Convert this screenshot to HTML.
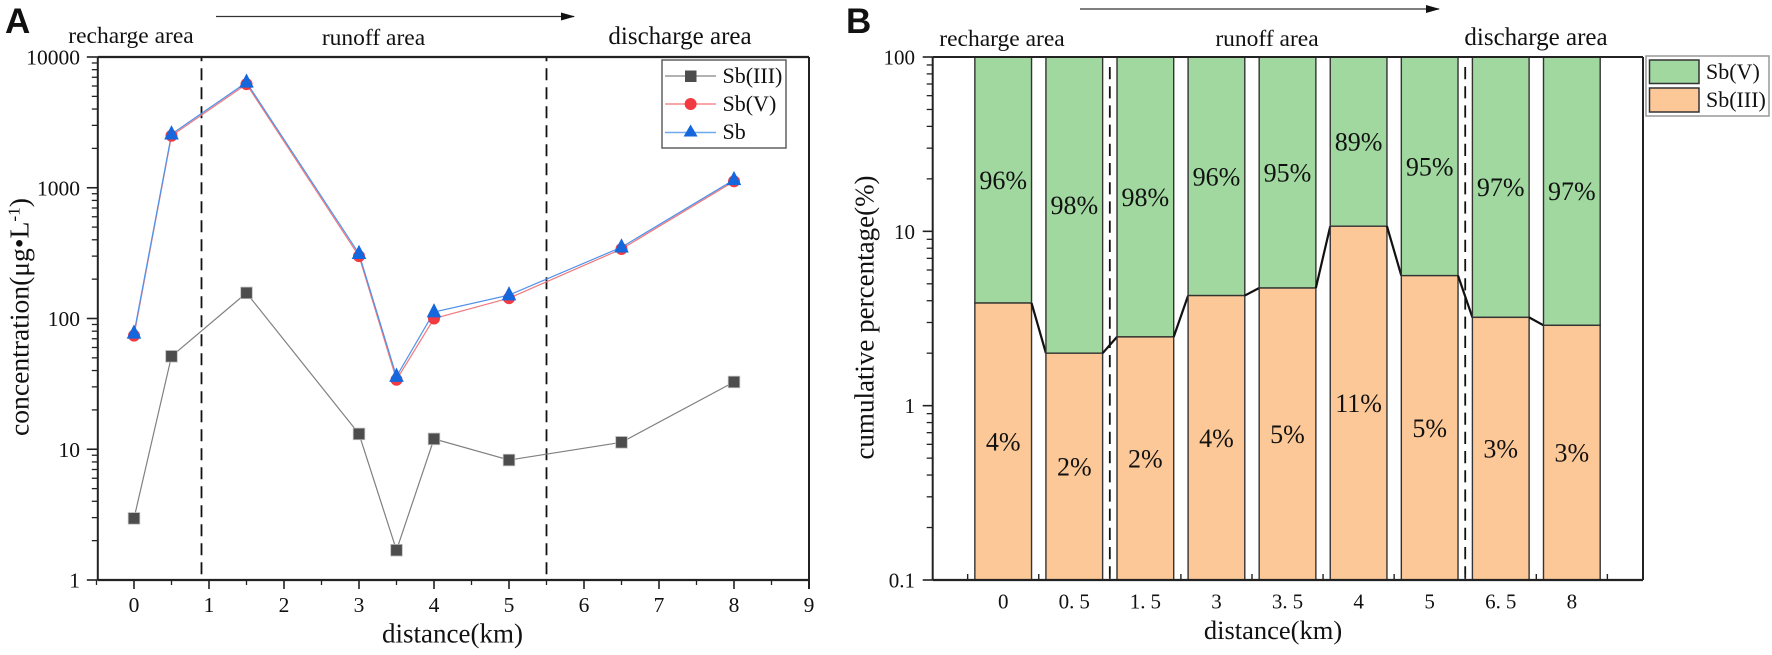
<!DOCTYPE html>
<html lang="en">
<head>
<meta charset="utf-8">
<title>Antimony speciation along distance</title>
<style>
html,body{margin:0;padding:0;background:#fff;}
svg{display:block;font-family:"Liberation Serif",serif;fill:#111;}
text{fill:#111;}
</style>
</head>
<body>
<svg id="figure" xmlns="http://www.w3.org/2000/svg" width="1772" height="655" viewBox="0 0 1772 655">
  <defs>
    <marker id="arrowhead" markerWidth="14" markerHeight="8" refX="13" refY="4" orient="auto" markerUnits="userSpaceOnUse"><path d="M0,0 L14,4 L0,8 Z" fill="#111"/></marker>
  </defs>
  <rect x="0" y="0" width="1772" height="655" fill="#fff"/>

  <g id="panelA"></g>
  <text x="5" y="33" font-family="Liberation Sans, sans-serif" font-weight="700" font-size="35">A</text>
  <line x1="216" y1="16.5" x2="574" y2="16.5" stroke="#333" stroke-width="1.3" marker-end="url(#arrowhead)"/>
  <text x="131" y="43" font-size="23.5" text-anchor="middle">recharge area</text>
  <text x="373.5" y="45" font-size="23.5" text-anchor="middle">runoff area</text>
  <text x="680" y="44" font-size="25" text-anchor="middle">discharge area</text>
  <text transform="translate(28.3,317) rotate(-90)" font-size="27" text-anchor="middle" textLength="238" lengthAdjust="spacingAndGlyphs">concentration(μg•L<tspan dy="-9" font-size="17">-1</tspan><tspan dy="9">)</tspan></text>
  <text x="452.5" y="642.5" font-size="27" text-anchor="middle">distance(km)</text>

  <g>
    <rect x="662" y="60" width="124" height="88" fill="#fff" stroke="#555" stroke-width="1.4"/>
    <line x1="665" y1="76" x2="716" y2="76" stroke="#999" stroke-width="1.5"/>
    <rect x="685" y="70.5" width="11.5" height="11.5" fill="#4d4d4d"/>
    <text x="722.5" y="83" font-size="22">Sb(III)</text>
    <line x1="665" y1="104" x2="716" y2="104" stroke="#f58a8f" stroke-width="1.5"/>
    <circle cx="690.6" cy="104" r="6" fill="#f23b40"/>
    <text x="722.5" y="111" font-size="22">Sb(V)</text>
    <line x1="665" y1="132.5" x2="716" y2="132.5" stroke="#6ea8ef" stroke-width="1.5"/>
    <path d="M690.6,124.5 L697.6,136.5 L683.6,136.5 Z" fill="#1567de"/>
    <text x="722.5" y="139" font-size="22">Sb</text>
  </g>

  <g id="panelB"></g>
  <text x="846" y="33" font-family="Liberation Sans, sans-serif" font-weight="700" font-size="35">B</text>
  <line x1="1080" y1="9" x2="1439" y2="9" stroke="#333" stroke-width="1.3" marker-end="url(#arrowhead)"/>
  <text x="1002" y="46" font-size="23.5" text-anchor="middle">recharge area</text>
  <text x="1267" y="46" font-size="23.5" text-anchor="middle">runoff area</text>
  <text x="1536" y="45" font-size="25" text-anchor="middle">discharge area</text>
  <text transform="translate(873.3,317.5) rotate(-90)" font-size="27" text-anchor="middle">cumulative percentage(%)</text>
  <text x="1273" y="639" font-size="26.5" text-anchor="middle">distance(km)</text>

  <g>
    <rect x="1646" y="56" width="123" height="60" fill="#fff" stroke="#999" stroke-width="1.5"/>
    <rect x="1649.5" y="60" width="49.5" height="23.5" fill="#a0d8a0" stroke="#333" stroke-width="1.5"/>
    <text x="1706" y="79" font-size="22">Sb(V)</text>
    <rect x="1649.5" y="88" width="49.5" height="24" fill="#fdc897" stroke="#333" stroke-width="1.5"/>
    <text x="1706" y="107" font-size="22">Sb(III)</text>
  </g>
</svg>

<script>
// Panel A data
const distances = [0, 0.5, 1.5, 3, 3.5, 4, 5, 6.5, 8];
const sb3Values = [2.96, 51.4, 157, 13.1, 1.69, 12, 8.27, 11.3, 32.7];
const sb5Values = [74, 2500, 6200, 300, 34, 100, 143, 340, 1120];
const sbValues = [77, 2570, 6400, 313, 36, 112, 151, 351, 1150];
const xTickLabelsA = ['0', '1', '2', '3', '4', '5', '6', '7', '8', '9'];
const yTickLabelsA = ['1', '10', '100', '1000', '10000'];
const zoneBoundariesA = [0.9, 5.5];

// Panel B data
const categoriesB = ['0', '0.5', '1.5', '3', '3.5', '4', '5', '6.5', '8'];
const sb3Percent = [3.88, 2.0, 2.48, 4.28, 4.73, 10.7, 5.57, 3.21, 2.89];
const sb5Percent = [96.12, 98.0, 97.52, 95.72, 95.27, 89.3, 94.43, 96.79, 97.11];
const sb3PercentLabels = ['4%', '2%', '2%', '4%', '5%', '11%', '5%', '3%', '3%'];
const sb5PercentLabels = ['96%', '98%', '98%', '96%', '95%', '89%', '95%', '97%', '97%'];
const yTickLabelsB = ['0.1', '1', '10', '100'];
const zoneBoundariesB = [1.5, 6.5];

const NS = 'http://www.w3.org/2000/svg';
function make(parent, tag, attrs, txt) {
  const el = document.createElementNS(NS, tag);
  for (const k in attrs) el.setAttribute(k, attrs[k]);
  if (txt !== undefined) el.textContent = txt;
  parent.appendChild(el);
  return el;
}

// ---------- Panel A ----------
const gA = document.getElementById('panelA');
const A = { left: 97.8, right: 809, top: 57, bottom: 580 };
const xA = v => 134 + 75 * v;
const yA = v => A.bottom - (A.bottom - A.top) * Math.log10(v) / 4;

zoneBoundariesA.forEach(b => {
  const el = make(gA, 'line', { x1: xA(b), x2: xA(b), y1: A.top, y2: A.bottom, stroke: '#111', 'stroke-width': 1.8, 'stroke-dasharray': '12 7', 'stroke-dashoffset': 7.7 });
  
  
});

function lineSeries(values, color, name) {
  const pts = values.map((v, i) => xA(distances[i]) + ',' + yA(v)).join(' ');
  const el = make(gA, 'polyline', { points: pts, fill: 'none', stroke: color, 'stroke-width': 1.2 });
  
  
}
lineSeries(sb3Values, '#808080', 'sb3-line');
lineSeries(sb5Values, '#f2787d', 'sb5-line');
lineSeries(sbValues, '#4f92ea', 'sb-line');

sb3Values.forEach((v, i) => {
  const el = make(gA, 'rect', { x: xA(distances[i]) - 5.8, y: yA(v) - 5.8, width: 11.6, height: 11.6, fill: '#4d4d4d', stroke: '#bdbdbd', 'stroke-width': 0.8 });
  
  
});
sb5Values.forEach((v, i) => {
  const el = make(gA, 'circle', { cx: xA(distances[i]), cy: yA(v), r: 6, fill: '#f23b40' });
  
  
});
sbValues.forEach((v, i) => {
  const cx = xA(distances[i]), cy = yA(v);
  const el = make(gA, 'path', { d: 'M' + cx + ',' + (cy - 9) + ' L' + (cx + 7.3) + ',' + (cy + 5.3) + ' L' + (cx - 7.3) + ',' + (cy + 5.3) + ' Z', fill: '#1567de' });
  
  
});

// Panel A frame
[[A.left, A.top, A.right, A.top, 2.2], [A.left, A.bottom, A.right, A.bottom, 2.2], [A.left, A.top, A.left, A.bottom, 2], [A.right, A.top, A.right, A.bottom + 9, 2]].forEach(s => {
  const el = make(gA, 'line', { x1: s[0], y1: s[1], x2: s[2], y2: s[3], stroke: '#222', 'stroke-width': s[4] });
  
  
});

// Panel A y ticks
yTickLabelsA.forEach((lab, d) => {
  const v = Math.pow(10, d);
  const y = yA(v);
  const tick = make(gA, 'line', { x1: A.left - 11, x2: A.left, y1: y, y2: y, stroke: '#222', 'stroke-width': 1.6 });
  
  
  const t = make(gA, 'text', { x: 80, y: y + 7.5, 'font-size': 21.5, 'text-anchor': 'end' }, lab);
  
  
  if (d < 4) for (let m = 2; m < 10; m++) {
    const ym = yA(v * m);
    const mt = make(gA, 'line', { x1: A.left - 6, x2: A.left, y1: ym, y2: ym, stroke: '#222', 'stroke-width': 1.3 });
    
    
  }
});

// Panel A x ticks
xTickLabelsA.forEach((lab, i) => {
  const x = xA(+lab);
  const tick = make(gA, 'line', { x1: x, x2: x, y1: A.bottom, y2: A.bottom + 9, stroke: '#222', 'stroke-width': 1.6 });
  
  
  const t = make(gA, 'text', { x: x, y: 612, 'font-size': 21.5, 'text-anchor': 'middle' }, lab);
  
  
  const mx = xA(+lab - 0.5);
  const mt = make(gA, 'line', { x1: mx, x2: mx, y1: A.bottom, y2: A.bottom + 5, stroke: '#222', 'stroke-width': 1.3 });
  
  
});

// ---------- Panel B ----------
const gB = document.getElementById('panelB');
const B = { left: 932.7, right: 1643, top: 57, bottom: 580 };
const xB = i => 1003.2 + 71.08 * i;
const yB = v => B.bottom - (B.bottom - B.top) * (Math.log10(v) + 1) / 3;
const barW = 56.7;

zoneBoundariesB.forEach(b => {
  const el = make(gB, 'line', { x1: xB(b), x2: xB(b), y1: B.top + 10, y2: B.bottom, stroke: '#111', 'stroke-width': 1.8, 'stroke-dasharray': '12.2 7' });
  
  
});

categoriesB.forEach((cat, i) => {
  const cx = xB(i), x0 = cx - barW / 2;
  const yMid = yB(sb3Percent[i]);
  const yTop = yB(sb3Percent[i] + sb5Percent[i]);
  const green = make(gB, 'rect', { x: x0, y: yTop, width: barW, height: yMid - yTop, fill: '#a0d8a0', stroke: '#333', 'stroke-width': 1.4 });
  
  
  const orange = make(gB, 'rect', { x: x0, y: yMid, width: barW, height: B.bottom - yMid, fill: '#fdc897', stroke: '#333', 'stroke-width': 1.4 });
  
  
  const tg = make(gB, 'text', { x: cx, y: (yTop + yMid) / 2 + 9, 'font-size': 26, 'text-anchor': 'middle' }, sb5PercentLabels[i]);
  
  
  const to = make(gB, 'text', { x: cx, y: (yMid + B.bottom) / 2 + 9, 'font-size': 26, 'text-anchor': 'middle' }, sb3PercentLabels[i]);
  
  
  const tl = make(gB, 'text', { x: cx, y: 608.3, 'font-size': 21, 'text-anchor': 'middle' });
  
  
  const dot = cat.indexOf('.');
  if (dot < 0) {
    tl.textContent = cat;
  } else {
    make(tl, 'tspan', {}, cat.slice(0, dot + 1));
    make(tl, 'tspan', { dx: 5 }, cat.slice(dot + 1));
  }
  if (i < categoriesB.length - 1) {
    const c = make(gB, 'line', { x1: cx + barW / 2, y1: yMid, x2: xB(i + 1) - barW / 2, y2: yB(sb3Percent[i + 1]), stroke: '#111', 'stroke-width': 2.2 });
    
    
  }
});

// Panel B x ticks, between the bars
for (let i = -0.5; i < categoriesB.length; i += 1) {
  const tick = make(gB, 'line', { x1: xB(i), x2: xB(i), y1: B.bottom - 6, y2: B.bottom, stroke: '#222', 'stroke-width': 1.4 });
  
  
}

// Panel B frame
[[B.left, B.top, B.right, B.top, 2], [B.left, B.bottom, B.right, B.bottom, 2.2], [B.left, B.top, B.left, B.bottom, 2], [B.right, B.top, B.right, B.bottom, 2]].forEach(s => {
  const el = make(gB, 'line', { x1: s[0], y1: s[1], x2: s[2], y2: s[3], stroke: '#222', 'stroke-width': s[4] });
  
  
});

// Panel B y ticks
yTickLabelsB.forEach(lab => {
  const v = parseFloat(lab);
  const y = yB(v);
  const tick = make(gB, 'line', { x1: B.left - 10, x2: B.left, y1: y, y2: y, stroke: '#222', 'stroke-width': 1.6 });
  
  
  const t = make(gB, 'text', { x: 915, y: y + 7.5, 'font-size': 21, 'text-anchor': 'end' }, lab);
  
  
  if (v < 100) for (let m = 2; m < 10; m++) {
    const ym = yB(v * m);
    const mt = make(gB, 'line', { x1: B.left - 6, x2: B.left, y1: ym, y2: ym, stroke: '#222', 'stroke-width': 1.3 });
    
    
  }
});
</script>
</body>
</html>
